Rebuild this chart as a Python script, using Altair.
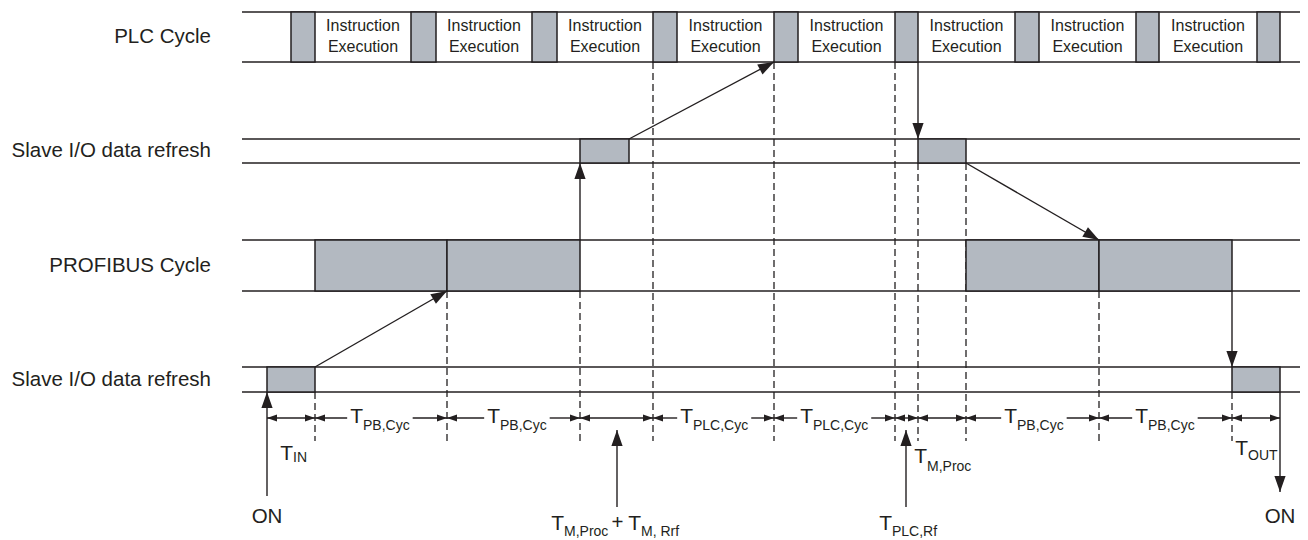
import altair as alt
import pandas as pd

INK = "#231f20"
FILL = "#b3b9c1"
FONT = "Liberation Sans"

# ---------------- data (diagram units: x = time axis, y = lane axis) ----------------
lane_labels = ["PLC Cycle", "Slave I/O data refresh", "PROFIBUS Cycle", "Slave I/O data refresh"]
lane_top = [12, 139, 240, 367]
lane_bottom = [62, 163, 291, 392]
lane_label_y = [37, 151, 265.5, 379.5]
time_start, time_end = 242, 1300

# PLC I/O refresh slots (grey) - instruction execution lies between them
plc_refresh_start = [291, 411, 532, 653, 774, 895, 1015, 1136, 1257]
plc_refresh_end = [315, 436, 557, 677, 798, 918, 1039, 1159, 1280]

slave_in_start = [580, 918]
slave_in_end = [629, 966]
profibus_start = [315, 447, 966, 1099]
profibus_end = [447, 580, 1099, 1232]
slave_out_start = [267, 1232]
slave_out_end = [315, 1280]

# dashed time markers
marker_x = [315, 447, 580, 653, 774, 895, 918, 966, 1099, 1232]
marker_from = [392, 291, 291, 62, 62, 62, 163, 163, 291, 392]
marker_to = 441

# data-flow arrows (head at the second point)
flow_x0 = [315, 580, 629, 918, 966, 1232, 267, 1280, 617, 906]
flow_y0 = [367, 240, 139, 62, 163, 291, 496, 392, 507, 507]
flow_x1 = [447, 580, 774, 918, 1099, 1232, 267, 1280, 617, 906]
flow_y1 = [291, 163, 62, 139, 240, 367, 392, 492, 430, 430]

# dimension intervals
dim_y = 418
dim_start = [267, 315, 447, 580, 653, 774, 895, 918, 966, 1099, 1232]
dim_end = [315, 447, 580, 653, 774, 895, 918, 966, 1099, 1232, 1280]
dim_label = [None, 1, 2, None, 3, 4, None, None, 6, 7, None]  # index into T labels

# "T" labels with subscripts
t_sub = ["IN", "PB,Cyc", "PB,Cyc", "PLC,Cyc", "PLC,Cyc", "M,Proc", "PB,Cyc", "PB,Cyc",
         "OUT", "M,Proc", "M, Rrf", "PLC,Rf"]
t_x = [293, 363, 500, 693, 813, 927, 1017, 1148, 1248, 564, 641, 892]
t_y = [460, 423, 423, 423, 423, 463, 423, 423, 455, 530, 530, 530]
t_sub_y = [462, 430, 430, 430, 430, 471, 430, 430, 460, 536, 536, 536]

plain_text = ["ON", "ON", "+"]
plain_x = [267, 1280, 617.5]
plain_y = [523, 523, 529]

T_SIZE = 21
SUB_SIZE = 14
# Arial advance widths (per 1000 em) for gap computation
AW = {"T": 611, "P": 667, "B": 667, ",": 278, "C": 722, "y": 500, "c": 500, "L": 556,
      "M": 833, "r": 333, "o": 556, "R": 722, "f": 278, "I": 278, "N": 722, "O": 778,
      "U": 722, " ": 278}


def tw(s, size):
    return sum(AW.get(ch, 556) for ch in s) * size / 1000.0


# ---------------- tables ----------------
lanes = pd.DataFrame(
    [{"x": time_start, "x2": time_end, "y": v} for v in lane_top + lane_bottom]
)
lane_text = pd.DataFrame({"x": 211, "y": lane_label_y, "text": lane_labels})

rects = []
for s, e in zip(plc_refresh_start, plc_refresh_end):
    rects.append({"x": s, "x2": e, "y": lane_top[0], "y2": lane_bottom[0]})
for s, e in zip(slave_in_start, slave_in_end):
    rects.append({"x": s, "x2": e, "y": lane_top[1], "y2": lane_bottom[1]})
for s, e in zip(profibus_start, profibus_end):
    rects.append({"x": s, "x2": e, "y": lane_top[2], "y2": lane_bottom[2]})
for s, e in zip(slave_out_start, slave_out_end):
    rects.append({"x": s, "x2": e, "y": lane_top[3], "y2": lane_bottom[3]})
rects = pd.DataFrame(rects)

instr = []
for i in range(len(plc_refresh_start) - 1):
    cx = (plc_refresh_end[i] + plc_refresh_start[i + 1]) / 2
    instr.append({"x": cx, "y": 26, "text": "Instruction"})
    instr.append({"x": cx, "y": 47, "text": "Execution"})
instr = pd.DataFrame(instr)

markers = pd.DataFrame({"x": marker_x, "y": marker_from, "y2": marker_to})

flows = pd.DataFrame({"x": flow_x0, "y": flow_y0, "x2": flow_x1, "y2": flow_y1})

dim_shafts, dim_heads = [], []
for s, e, li in zip(dim_start, dim_end, dim_label):
    if li is None:
        dim_shafts.append({"x": s, "x2": e, "y": dim_y, "y2": dim_y})
    else:
        g0 = t_x[li] - tw("T", T_SIZE) - 3
        g1 = t_x[li] + tw(t_sub[li], SUB_SIZE) + 3
        dim_shafts.append({"x": s, "x2": g0, "y": dim_y, "y2": dim_y})
        dim_shafts.append({"x": g1, "x2": e, "y": dim_y, "y2": dim_y})
    dim_heads.append({"x": s, "y": dim_y, "angle": 270})
    dim_heads.append({"x": e, "y": dim_y, "angle": 90})
dim_shafts = pd.DataFrame(dim_shafts)
dim_heads = pd.DataFrame(dim_heads)

tlab = pd.DataFrame({"x": t_x, "y": t_y, "sy": t_sub_y, "sub": t_sub})
plain = pd.DataFrame({"x": plain_x, "y": plain_y, "text": plain_text})

# ---------------- encodings ----------------
xs = alt.Scale(domain=[8, 1300], nice=False, zero=False)
ys = alt.Scale(domain=[8, 532], nice=False, zero=False, reverse=True)


def X(f="x"):
    return alt.X(f"{f}:Q", scale=xs, axis=None)


def Y(f="y"):
    return alt.Y(f"{f}:Q", scale=ys, axis=None)


HEAD = "M0,0L-0.7,2L0.7,2Z"

lane_lines = alt.Chart(lanes).mark_rule(color=INK, strokeWidth=1.5).encode(
    x=X(), x2="x2:Q", y=Y()
)
marker_layer = alt.Chart(markers).mark_rule(
    color=INK, strokeWidth=1.3, strokeDash=[7, 4]
).encode(x=X(), y=Y(), y2="y2:Q")
rect_layer = alt.Chart(rects).mark_rect(
    fill=FILL, stroke=INK, strokeWidth=1.5, opacity=1
).encode(x=X(), x2="x2:Q", y=Y(), y2="y2:Q")
flow_shafts = alt.Chart(flows).mark_rule(color=INK, strokeWidth=1.4).encode(
    x=X(), y=Y(), x2="x2:Q", y2="y2:Q"
)
flow_heads = alt.Chart(flows).transform_calculate(
    angle="(atan2(datum.x2 - datum.x, -(datum.y2 - datum.y)) * 180 / PI + 360) % 360"
).mark_point(shape=HEAD, filled=True, fill=INK, strokeWidth=0, opacity=1, size=256).encode(
    x=X("x2"), y=Y("y2"), angle=alt.Angle("angle:Q", scale=None)
)
dim_shaft_layer = alt.Chart(dim_shafts).mark_rule(color=INK, strokeWidth=1.4).encode(
    x=X(), y=Y(), x2="x2:Q", y2="y2:Q"
)
dim_head_layer = alt.Chart(dim_heads).mark_point(
    shape=HEAD, filled=True, fill=INK, strokeWidth=0, opacity=1, size=100
).encode(x=X(), y=Y(), angle=alt.Angle("angle:Q", scale=None))

lane_text_layer = alt.Chart(lane_text).mark_text(
    font=FONT, fontSize=20.5, align="right", baseline="middle", color=INK
).encode(x=X(), y=Y(), text="text:N")
instr_layer = alt.Chart(instr).mark_text(
    font=FONT, fontSize=16, align="center", baseline="middle", color=INK
).encode(x=X(), y=Y(), text="text:N")
t_layer = alt.Chart(tlab).transform_calculate(t="'T'").mark_text(
    font=FONT, fontSize=T_SIZE, align="right", baseline="alphabetic", color=INK
).encode(x=X(), y=Y(), text="t:N")
sub_layer = alt.Chart(tlab).mark_text(
    font=FONT, fontSize=SUB_SIZE, align="left", baseline="alphabetic", color=INK
).encode(x=X(), y=Y("sy"), text="sub:N")
plain_layer = alt.Chart(plain).mark_text(
    font=FONT, fontSize=20.5, align="center", baseline="alphabetic", color=INK
).encode(x=X(), y=Y(), text="text:N")

chart = alt.layer(
    lane_lines, marker_layer, rect_layer, flow_shafts, flow_heads,
    dim_shaft_layer, dim_head_layer, lane_text_layer, instr_layer,
    t_layer, sub_layer, plain_layer,
).properties(
    width=1292, height=524,
    autosize=alt.AutoSizeParams(type="none"),
    padding={"left": 0, "top": 0, "right": 0, "bottom": 6},
    background="white",
).configure_view(stroke=None)

chart.save("out.html", embed_options={"renderer": "svg", "actions": False})
